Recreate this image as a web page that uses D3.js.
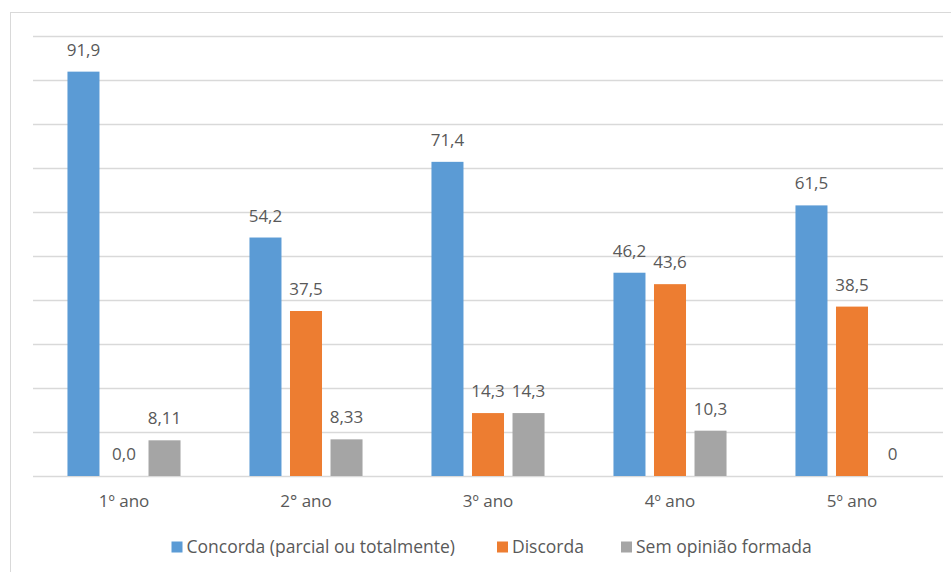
<!DOCTYPE html>
<html>
<head>
<meta charset="utf-8">
<script src="https://cdn.jsdelivr.net/npm/d3@7/dist/d3.min.js"></script>
<style>
  html, body { margin: 0; padding: 0; background: #fff; }
  svg { display: block; }
  text { font-family: "Open Sans", "Noto Sans", sans-serif; fill: #595959; }
</style>
</head>
<body>
<svg id="chart" width="951" height="572"></svg>
<script>
// Categories (school years)
const categories = ["1º ano", "2° ano", "3º ano", "4º ano", "5º ano"];

// Series names
const seriesNames = ["Concorda (parcial ou totalmente)", "Discorda", "Sem opinião formada"];

// Series values (%)
const concorda = [91.9, 54.2, 71.4, 46.2, 61.5];
const discorda = [0.0, 37.5, 14.3, 43.6, 38.5];
const semOpiniao = [8.11, 8.33, 14.3, 10.3, 0];

// Value labels as printed above each bar
const concordaLabels = ["91,9", "54,2", "71,4", "46,2", "61,5"];
const discordaLabels = ["0,0", "37,5", "14,3", "43,6", "38,5"];
const semOpiniaoLabels = ["8,11", "8,33", "14,3", "10,3", "0"];

// Gridline values
const gridTicks = [0, 10, 20, 30, 40, 50, 60, 70, 80, 90, 100];

const colors = ["#5B9BD5", "#ED7D31", "#A5A5A5"];

const seriesValues = [concorda, discorda, semOpiniao];
const seriesLabels = [concordaLabels, discordaLabels, semOpiniaoLabels];

const svg = d3.select("#chart");

// Chart area frame
svg.append("rect")
  .attr("x", 10.5).attr("y", 12.5)
  .attr("width", 1000).attr("height", 1000)
  .attr("fill", "none")
  .attr("stroke", "#d9d9d9")
  .attr("stroke-width", 1);

const plot = { left: 33, right: 943, top: 36, bottom: 476 };

const x0 = d3.scaleBand()
  .domain(categories)
  .range([plot.left, plot.right])
  .paddingInner(0.332)
  .paddingOuter(0.166);

const x1 = d3.scaleBand()
  .domain(d3.range(seriesNames.length))
  .range([0, x0.bandwidth()])
  .paddingInner(0.21)
  .paddingOuter(0.105);

const y = d3.scaleLinear()
  .domain([0, 100])
  .range([plot.bottom, plot.top]);

// Horizontal gridlines
svg.append("g")
  .selectAll("line")
  .data(gridTicks)
  .join("line")
  .attr("x1", plot.left).attr("x2", plot.right)
  .attr("y1", d => Math.round(y(d)) + 0.5)
  .attr("y2", d => Math.round(y(d)) + 0.5)
  .attr("stroke", "#d9d9d9")
  .attr("stroke-width", 1.5);

// Bars with value labels
const groups = svg.append("g")
  .selectAll("g")
  .data(categories)
  .join("g")
  .attr("transform", d => `translate(${x0(d)},0)`);

groups.each(function(cat, ci) {
  const g = d3.select(this);
  seriesNames.forEach((s, si) => {
    const v = seriesValues[si][ci];
    g.append("rect")
      .attr("x", x1(si))
      .attr("y", y(v))
      .attr("width", x1.bandwidth())
      .attr("height", y(0) - y(v))
      .attr("fill", colors[si]);
    g.append("text")
      .attr("x", x1(si) + x1.bandwidth() / 2)
      .attr("y", y(v) - 16)
      .attr("text-anchor", "middle")
      .attr("font-size", 17)
      .text(seriesLabels[si][ci]);
  });
});

// Category axis labels
svg.append("g")
  .selectAll("text")
  .data(categories)
  .join("text")
  .attr("x", d => x0(d) + x0.bandwidth() / 2)
  .attr("y", 507)
  .attr("text-anchor", "middle")
  .attr("font-size", 17)
  .text(d => d);

// Legend
const legendX = [171.5, 497, 621];
const legend = svg.append("g");
seriesNames.forEach((s, i) => {
  legend.append("rect")
    .attr("x", legendX[i])
    .attr("y", 541.5)
    .attr("width", 11)
    .attr("height", 11)
    .attr("fill", colors[i]);
  legend.append("text")
    .attr("x", legendX[i] + 15)
    .attr("y", 553)
    .attr("font-size", 17.5)
    .text(s);
});
</script>
</body>
</html>
